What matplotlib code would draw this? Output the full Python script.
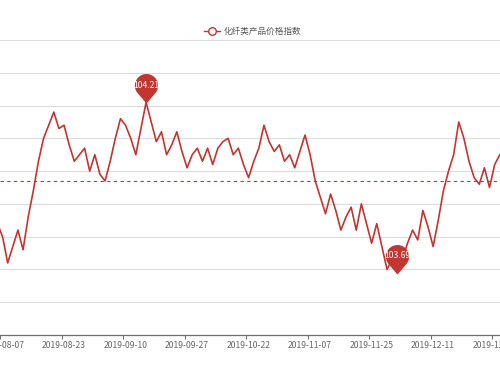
import numpy as np
import matplotlib
matplotlib.use("Agg")
import matplotlib.pyplot as plt
from matplotlib.path import Path
from matplotlib.lines import Line2D

plt.rcParams['font.family'] = ['Noto Sans CJK SC', 'DejaVu Sans']

# 化纤类产品价格指数（交易日，从 2019-08-06 开始）
values = [
    103.84, 103.80, 103.72, 103.77, 103.82, 103.76, 103.86, 103.94, 104.03, 104.10,
    104.14, 104.18, 104.13, 104.14, 104.08, 104.03, 104.05, 104.07, 104.00, 104.05,
    103.99, 103.97, 104.03, 104.10, 104.16, 104.14, 104.10, 104.05, 104.13, 104.21,
    104.15, 104.09, 104.12, 104.05, 104.08, 104.12, 104.06, 104.01, 104.05, 104.07,
    104.03, 104.07, 104.02, 104.07, 104.09, 104.10, 104.05, 104.07, 104.02, 103.98,
    104.03, 104.07, 104.14, 104.09, 104.06, 104.08, 104.03, 104.05, 104.01, 104.06,
    104.11, 104.05, 103.97, 103.92, 103.87, 103.93, 103.88, 103.82, 103.86, 103.89,
    103.82, 103.90, 103.84, 103.78, 103.84, 103.77, 103.70, 103.73, 103.69, 103.73,
    103.78, 103.82, 103.79, 103.88, 103.83, 103.77, 103.85, 103.94, 104.00, 104.05,
    104.15, 104.10, 104.03, 103.98, 103.96, 104.01, 103.95, 104.02, 104.05, 104.06,
]
tick_labels = ["2019-08-07", "2019-08-23", "2019-09-10", "2019-09-27", "2019-10-22",
               "2019-11-07", "2019-11-25", "2019-12-11", "2019-12-27"]
label_step = 12      # 每 12 个交易日一个标签
first_label_idx = 1  # 2019-08-07 在 values 中的位置
avg_value = 103.97
legend_name = "化纤类产品价格指数"

red = "#c23531"
x = np.arange(len(values))

fig = plt.figure(figsize=(5, 3.75), dpi=100)
ax = fig.add_axes([0, 40 / 375, 1, 295 / 375])

ax.plot(x, values, color=red, lw=1.2, zorder=3)
ax.axhline(avg_value, color=red, lw=0.8, ls=(0, (3, 3)), zorder=2)

# 坐标范围：左侧被裁掉一部分
spacing = 5.143
ax.set_xlim(first_label_idx - 0.9 / spacing, first_label_idx + 499.1 / spacing)
ax.set_ylim(103.5, 104.4)
ax.set_yticks(np.arange(103.5, 104.45, 0.1))
ax.yaxis.grid(True, color="#dcdcdc", lw=0.8)
for gl in ax.get_ygridlines():
    gl.set_clip_on(False)
ax.tick_params(axis="y", left=False, labelleft=False)

pos = [first_label_idx + k * label_step for k in range(len(tick_labels))]
ax.set_xticks(pos)
ax.set_xticklabels(tick_labels, fontsize=6.2, color="#666666")
ax.set_xticks([p - 0.5 for p in pos], minor=True)
ax.tick_params(axis="x", which="major", length=0, pad=4)
ax.tick_params(axis="x", which="minor", length=3, width=0.8, color="#6e7079")

for s in ["top", "left", "right"]:
    ax.spines[s].set_visible(False)
ax.spines["bottom"].set_color("#6e7079")
ax.spines["bottom"].set_linewidth(0.9)

# 标记点（气泡形状）
c = 1.545
tx = np.sqrt(c ** 2 - 1) / c
ty = (c ** 2 - 1) / c
a0 = np.arctan2(ty - c, tx)
ang = np.linspace(a0, np.pi - a0, 40)
verts = [(0, 0)] + [(np.cos(t), c + np.sin(t)) for t in ang] + [(0, 0)]
pin = Path(verts, [Path.MOVETO] + [Path.LINETO] * (len(verts) - 2) + [Path.CLOSEPOLY])

for idx in [int(np.argmax(values)), int(np.argmin(values))]:
    v = values[idx]
    ax.plot(idx, v, marker=pin, markersize=40, color=red, mec=red,
            zorder=5, clip_on=False)
    ax.annotate(f"{v:.2f}", (idx, v), xytext=(0, 12.3), textcoords="offset points",
                ha="center", va="center", fontsize=6.2, color="white", zorder=6)

# 图例
ly = 1 - 31 / 375
fig.add_artist(Line2D([204 / 500, 220 / 500], [ly, ly], color=red, lw=1))
fig.add_artist(Line2D([212 / 500], [ly], marker="o", markersize=5.5,
                      mfc="white", mec=red, mew=1))
fig.text(224 / 500, ly, legend_name, fontsize=6.2, color="#555555", va="center")

fig.savefig("out.png", dpi=100)
